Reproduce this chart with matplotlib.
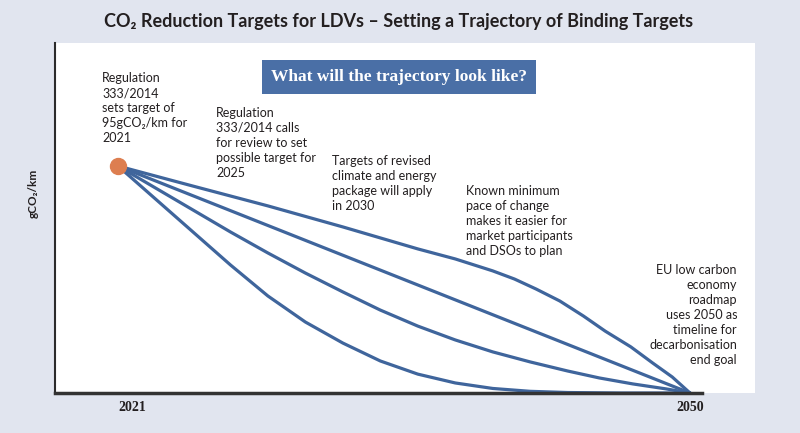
import numpy as np
import matplotlib
matplotlib.use("Agg")
import matplotlib.pyplot as plt
import matplotlib.transforms as mtransforms

# --- data (years vs gCO2/km) ---
start_year = 2021
end_year = 2050
start_value = 95

# top path: slow at first, fast drop near the end
years_slow = [2021, 2024.8, 2028.6, 2032.4, 2036.2, 2038.1, 2040.0, 2041.1, 2042.2, 2043.4,
              2044.6, 2045.7, 2047.0, 2048.1, 2049.1, 2050]
values_slow = [95, 86.6, 78.3, 69.5, 60.3, 56.1, 51.1, 47.7, 43.5, 38.5,
               32.2, 25.9, 19.3, 12.6, 6.7, 0]

# straight line
years_linear = [2021, 2050]
values_linear = [95, 0]

# moderately front loaded
years_mid = [2021, 2022.9, 2024.8, 2026.7, 2028.6, 2030.5, 2032.4, 2034.3, 2036.2, 2038.1,
             2040.0, 2041.9, 2043.8, 2045.4, 2047.1, 2048.8, 2050]
values_mid = [95, 85.8, 76.6, 67.4, 58.6, 50.2, 42.3, 34.7, 28.0, 22.2,
              17.2, 13.0, 9.2, 6.3, 3.8, 1.7, 0]

# strongly front loaded
years_fast = [2021, 2022.9, 2024.8, 2026.7, 2028.6, 2030.5, 2032.4, 2034.3, 2036.2, 2038.1,
              2040.0, 2041.9, 2043.8, 2046.5, 2050]
values_fast = [95, 81.2, 67.4, 53.6, 40.6, 29.7, 20.9, 13.4, 7.9, 4.2,
               1.9, 0.7, 0.2, 0, 0]

tick_years = [2021, 2050]
tick_labels = ["2021", "2050"]

notes = [
    "Regulation\n333/2014\nsets target of\n95gCO\u2082/km for\n2021",
    "Regulation\n333/2014 calls\nfor review to set\npossible target for\n2025",
    "Targets of revised\nclimate and energy\npackage will apply\nin 2030",
    "Known minimum\npace of change\nmakes it easier for\nmarket participants\nand DSOs to plan",
    "EU low carbon\neconomy\nroadmap\nuses 2050 as\ntimeline for\ndecarbonisation\nend goal",
]

title = "CO\u2082 Reduction Targets for LDVs \u2013 Setting a Trajectory of Binding Targets"
question = "What will the trajectory look like?"

# --- styling ---
bg = "#e1e5ef"
line_col = "#3f659c"
dot_col = "#dd7e50"
txt_col = "#231f20"
sans = ["Lato", "DejaVu Sans"]

W, H = 800, 433
fig = plt.figure(figsize=(W / 100, H / 100), dpi=100, facecolor=bg)
ax = fig.add_axes([55 / W, 1 - 393 / H, 700 / W, 350 / H])
ax.set_facecolor("white")

for xs, ys in [(years_slow, values_slow), (years_linear, values_linear),
               (years_mid, values_mid), (years_fast, values_fast)]:
    ax.plot(xs, ys, color=line_col, lw=2.3, solid_capstyle="round", solid_joinstyle="round", zorder=2)

ax.plot([start_year], [start_value], "o", color=dot_col, ms=11.5, zorder=3)

px_per_year = (690 - 118) / (end_year - start_year)
ax.set_xlim(start_year - 63 / px_per_year, end_year + 65 / px_per_year)
ax.set_ylim(0, start_value * 350 / 227)

for s in ["top", "right"]:
    ax.spines[s].set_visible(False)
ax.spines["left"].set_color("#2b2b2b")
ax.spines["left"].set_linewidth(1.5)
ax.spines["bottom"].set_color("#333333")
ax.spines["bottom"].set_linewidth(2.5)
ax.spines["bottom"].set_bounds(ax.get_xlim()[0], end_year + 12 / px_per_year)

ax.set_yticks([])
ax.set_xticks(tick_years)
ax.set_xticklabels(tick_labels, fontfamily="Liberation Serif", fontweight="bold", fontsize=10, color=txt_col)
ax.tick_params(axis="x", length=0, pad=6)
# the 2021 label sits a little right of the point
shift = mtransforms.ScaledTranslation(14 / 100, 0, fig.dpi_scale_trans)
lab0 = ax.get_xticklabels()[0]
lab0.set_transform(lab0.get_transform() + shift)

fig.text(33 / W, 1 - 193 / H, "gCO\u2082/km", rotation=90, ha="center", va="center",
         fontsize=8.5, fontweight="bold", family=sans, color=txt_col)

fig.text(399 / W, 1 - 22 / H, title, ha="center", va="center", fontsize=13, fontweight="bold",
         family=sans, color=txt_col)

# question box
fig.text(399 / W, 1 - 77 / H, question, ha="center", va="center", fontsize=12.5, fontweight="bold",
         family="Liberation Serif", color="white",
         bbox=dict(boxstyle="square,pad=0.5", fc="#4a6fa6", ec="none"))

# annotations (left x, top y in pixels)
spots = [(102, 72, "left"), (216, 107, "left"), (332, 155, "left"), (466, 185, "left"), (737, 264, "right")]
for (x, y, ha), t in zip(spots, notes):
    fig.text(x / W, 1 - y / H, t, ha=ha, va="top", fontsize=9, family=sans, color=txt_col,
             linespacing=1.3, multialignment=ha)

fig.savefig("out.png", dpi=100, facecolor=bg)
